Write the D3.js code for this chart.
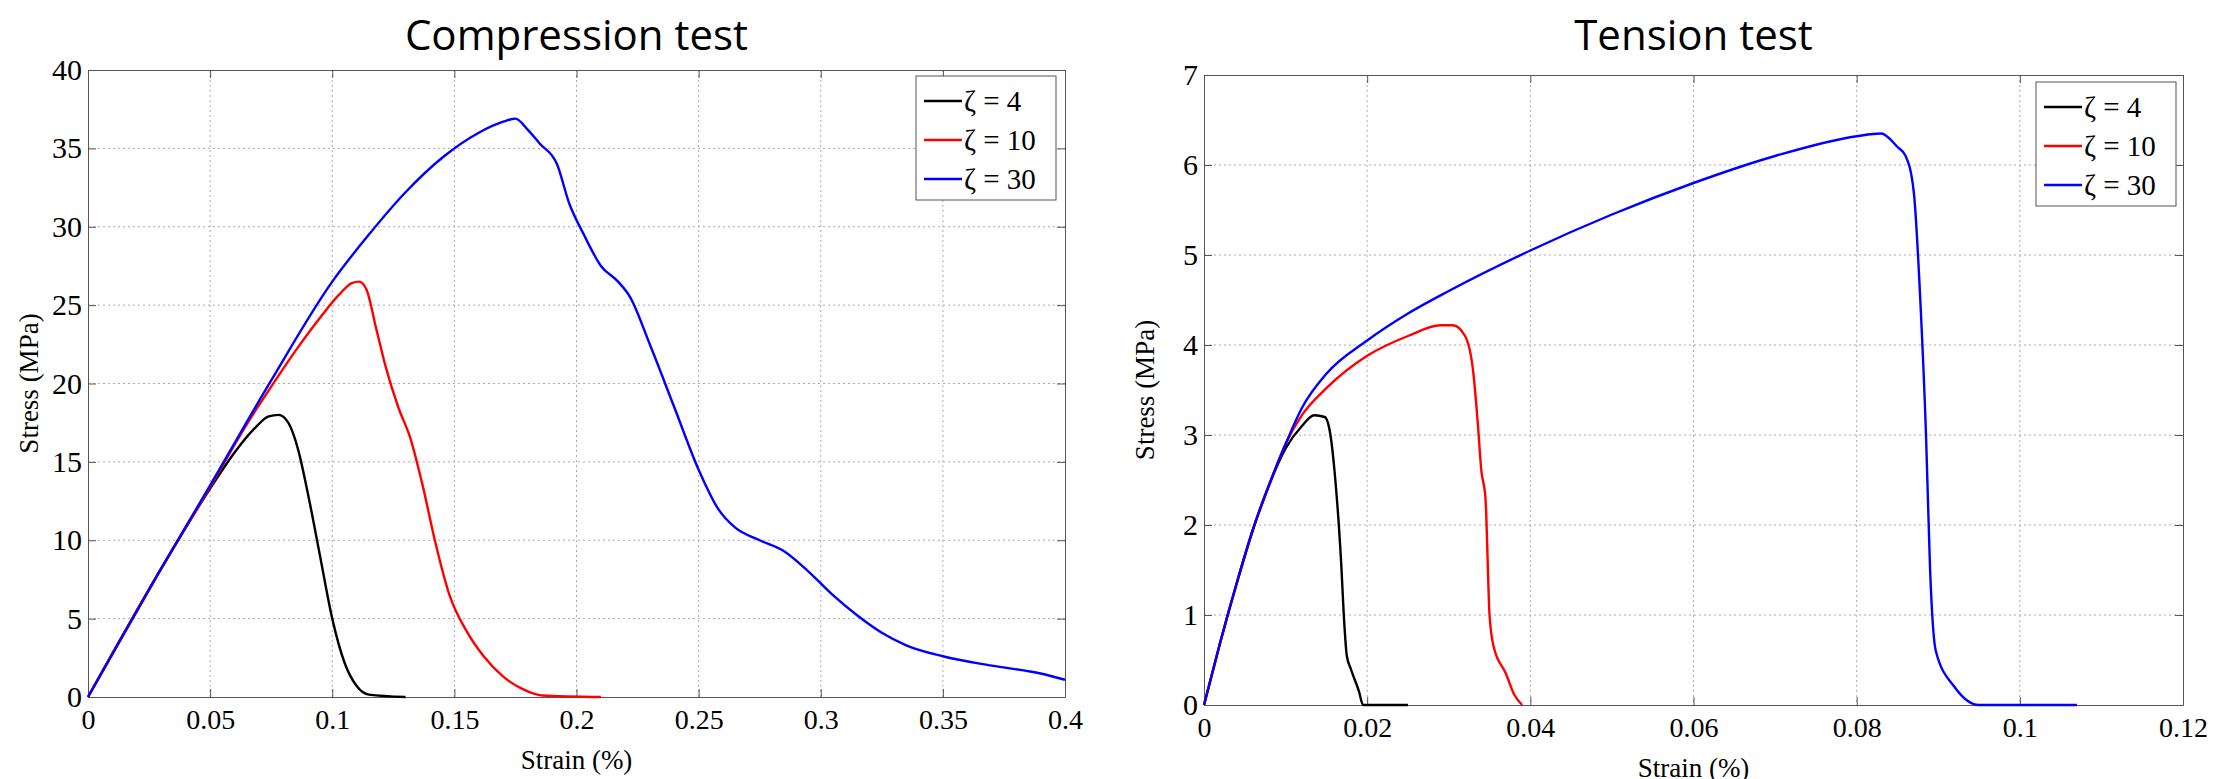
<!DOCTYPE html>
<html>
<head>
<meta charset="utf-8">
<script src="https://cdn.jsdelivr.net/npm/d3@7"></script>
<style>
  body { margin: 0; background: #fff; }
  .tick text { font-family: "Liberation Serif", serif; }
</style>
</head>
<body>
<div id="chart"></div>
<script>
const seriesNames = ['ζ = 4', 'ζ = 10', 'ζ = 30'];
const seriesColors = ['#000000', '#ff0000', '#0000ff'];

// Compression test: [strain %, stress MPa]
const compK4 = [[0,0],[0.03,8.2],[0.05,13.3],[0.06,15.6],[0.068,17.1],[0.074,17.9],[0.078,18],[0.082,17.5],[0.086,15.8],[0.09,13],[0.095,9],[0.1,5],[0.105,2.2],[0.11,0.7],[0.115,0.15],[0.13,0]];
const compK10 = [[0,0],[0.03,8.2],[0.05,13.4],[0.065,17.4],[0.075,19.8],[0.085,22.1],[0.095,24.2],[0.103,25.7],[0.108,26.4],[0.111,26.5],[0.114,26],[0.118,23.5],[0.122,21],[0.127,18.5],[0.132,16.5],[0.137,13.5],[0.142,10],[0.148,6.5],[0.155,4.2],[0.162,2.6],[0.17,1.3],[0.178,0.5],[0.186,0.1],[0.21,0]];
const compK30 = [[0,0],[0.03,8.2],[0.05,13.5],[0.075,20.2],[0.1,26.5],[0.115,29.5],[0.13,32.2],[0.145,34.4],[0.16,36],[0.17,36.7],[0.175,36.9],[0.18,36.2],[0.185,35.3],[0.192,34],[0.197,31.5],[0.203,29.5],[0.21,27.5],[0.217,26.5],[0.222,25.5],[0.23,22.5],[0.24,18.5],[0.25,14.5],[0.258,12],[0.265,10.8],[0.275,10],[0.285,9.3],[0.295,8],[0.305,6.5],[0.315,5.2],[0.325,4.1],[0.335,3.3],[0.35,2.6],[0.37,2],[0.39,1.5],[0.4,1.1]];

// Tension test
const tensK4 = [[0,0],[0.002,0.7],[0.004,1.35],[0.006,1.95],[0.008,2.45],[0.01,2.85],[0.012,3.1],[0.0135,3.22],[0.0148,3.2],[0.0155,3.0],[0.016,2.6],[0.0168,1.6],[0.0172,0.9],[0.0175,0.55],[0.018,0.4],[0.019,0.15],[0.0195,0],[0.025,0]];
const tensK10 = [[0,0],[0.002,0.7],[0.004,1.35],[0.006,1.95],[0.008,2.45],[0.01,2.9],[0.012,3.22],[0.015,3.52],[0.02,3.88],[0.025,4.1],[0.029,4.22],[0.0305,4.22],[0.032,4.1],[0.033,3.7],[0.0335,3.2],[0.034,2.6],[0.0345,2.3],[0.035,1.0],[0.0355,0.65],[0.037,0.35],[0.038,0.12],[0.039,0]];
const tensK30 = [[0,0],[0.002,0.7],[0.004,1.35],[0.006,1.95],[0.008,2.45],[0.01,2.9],[0.012,3.3],[0.015,3.68],[0.02,4.05],[0.025,4.35],[0.03,4.6],[0.04,5.05],[0.05,5.45],[0.06,5.8],[0.07,6.1],[0.08,6.32],[0.083,6.35],[0.085,6.2],[0.086,6.1],[0.087,5.7],[0.0878,4.5],[0.0885,3],[0.089,1.5],[0.0897,0.6],[0.092,0.2],[0.095,0],[0.107,0]];

const compXTicks = [0,0.05,0.1,0.15,0.2,0.25,0.3,0.35,0.4];
const compYTicks = [0,5,10,15,20,25,30,35,40];
const tensXTicks = [0,0.02,0.04,0.06,0.08,0.1,0.12];
const tensYTicks = [0,1,2,3,4,5,6,7];

const svg = d3.select('#chart').append('svg')
  .attr('width', 2227).attr('height', 779);

function drawPanel(opt) {
  const { left, right, top, bottom, title, xMax, yMax, xTicks, yTicks, lines, legend } = opt;
  const x = d3.scaleLinear().domain([0, xMax]).range([left, right]);
  const y = d3.scaleLinear().domain([0, yMax]).range([bottom, top]);
  const g = svg.append('g');
  const fmt = d => String(d);

  // grid
  g.selectAll('.gx').data(xTicks.slice(1, -1)).join('line')
    .attr('x1', d => x(d)).attr('x2', d => x(d)).attr('y1', top).attr('y2', bottom)
    .attr('stroke', '#aaa').attr('stroke-width', 1).attr('stroke-dasharray', '2,3');
  g.selectAll('.gy').data(yTicks.slice(1, -1)).join('line')
    .attr('y1', d => y(d)).attr('y2', d => y(d)).attr('x1', left).attr('x2', right)
    .attr('stroke', '#aaa').attr('stroke-width', 1).attr('stroke-dasharray', '2,3');

  // axes
  g.append('g').attr('transform', `translate(0,${bottom})`)
    .call(d3.axisBottom(x).tickValues(xTicks).tickSizeInner(-8).tickSizeOuter(0).tickPadding(12).tickFormat(fmt))
    .call(a => a.selectAll('text').attr('font-size', 28).attr('fill', '#000'))
    .call(a => a.selectAll('line, path').attr('stroke', '#555'));
  g.append('g').attr('transform', `translate(${left},0)`)
    .call(d3.axisLeft(y).tickValues(yTicks).tickSizeInner(-8).tickSizeOuter(0).tickPadding(6).tickFormat(fmt))
    .call(a => a.selectAll('text').attr('font-size', 30).attr('fill', '#000'))
    .call(a => a.selectAll('line, path').attr('stroke', '#555'));
  g.append('g').attr('transform', `translate(0,${top})`)
    .call(d3.axisTop(x).tickValues(xTicks).tickSizeInner(-8).tickSizeOuter(0).tickFormat(''))
    .call(a => a.selectAll('line, path').attr('stroke', '#555'));
  g.append('g').attr('transform', `translate(${right},0)`)
    .call(d3.axisRight(y).tickValues(yTicks).tickSizeInner(-8).tickSizeOuter(0).tickFormat(''))
    .call(a => a.selectAll('line, path').attr('stroke', '#555'));

  // lines
  const line = d3.line().x(d => x(d[0])).y(d => y(d[1])).curve(d3.curveMonotoneX);
  lines.forEach((data, i) => {
    g.append('path').attr('d', line(data)).attr('fill', 'none')
      .attr('stroke', seriesColors[i]).attr('stroke-width', 2.4);
  });

  // titles
  g.append('text').attr('x', (left + right) / 2).attr('y', 50).attr('text-anchor', 'middle')
    .attr('font-family', 'Open Sans, sans-serif').attr('font-size', 42).text(title);
  g.append('text').attr('x', (left + right) / 2).attr('y', bottom + 72).attr('text-anchor', 'middle')
    .attr('font-family', 'Liberation Serif, serif').attr('font-size', 27).text('Strain (%)');
  g.append('text').attr('transform', `translate(${left - 50},${(top + bottom) / 2}) rotate(-90)`)
    .attr('text-anchor', 'middle')
    .attr('font-family', 'Liberation Serif, serif').attr('font-size', 27).text('Stress (MPa)');

  // legend
  const lg = g.append('g').attr('transform', `translate(${legend[0]},${legend[1]})`);
  lg.append('rect').attr('width', 140).attr('height', 124).attr('fill', '#fff').attr('stroke', '#555');
  seriesNames.forEach((n, i) => {
    const ly = 25 + i * 39;
    lg.append('line').attr('x1', 8).attr('x2', 46).attr('y1', ly).attr('y2', ly)
      .attr('stroke', seriesColors[i]).attr('stroke-width', 2.4);
    lg.append('text').attr('x', 48).attr('y', ly + 10)
      .attr('font-family', 'Liberation Serif, serif').attr('font-size', 29).text(n);
  });
}

drawPanel({ left: 88, right: 1065, top: 70, bottom: 697, title: 'Compression test',
  xMax: 0.4, yMax: 40, xTicks: compXTicks, yTicks: compYTicks,
  lines: [compK4, compK10, compK30], legend: [916, 76] });
drawPanel({ left: 1204, right: 2183, top: 75, bottom: 705, title: 'Tension test',
  xMax: 0.12, yMax: 7, xTicks: tensXTicks, yTicks: tensYTicks,
  lines: [tensK4, tensK10, tensK30], legend: [2036, 82] });
</script>
</body>
</html>
